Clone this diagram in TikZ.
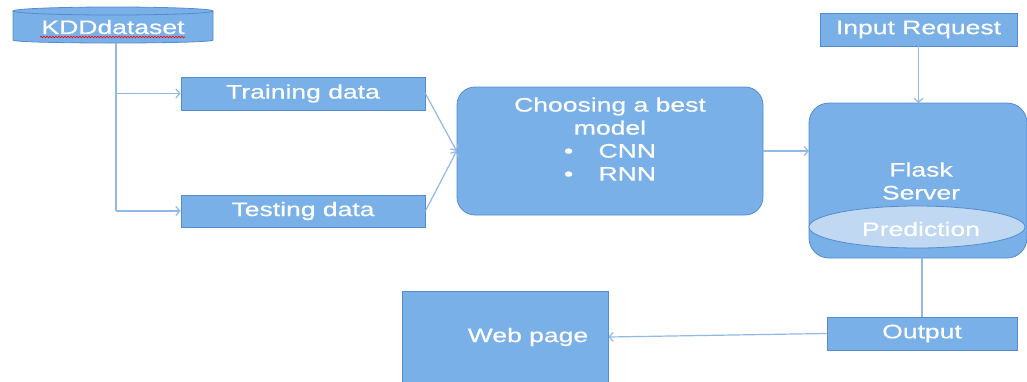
\documentclass[tikz,border=0pt]{standalone}
\usepackage{fontspec}
\setmainfont{Liberation Sans}[FakeStretch=1.36,FakeBold=0.5]
\usetikzlibrary{arrows.meta,decorations.pathmorphing}
\definecolor{boxfill}{RGB}{122,176,232}
\definecolor{boxline}{RGB}{85,140,205}
\definecolor{linec}{RGB}{145,185,232}
\definecolor{predfill}{RGB}{192,216,242}
\begin{document}
\begin{tikzpicture}[x=1pt,y=-1pt,
  txt/.style={text=white,inner sep=0,font=\fontsize{19.5}{23}\selectfont,align=center},
  box/.style={draw=boxline,fill=boxfill,line width=0.8pt,inner sep=0,text=white,font=\fontsize{19.5}{23}\selectfont},
  anchorbox/.style={inner sep=0,outer sep=0},
  conn/.style={draw=linec,line width=1.2pt},
  arr/.style={conn,-{Straight Barb[length=4pt,width=9pt]}}]
\clip (0,0) rectangle (1027,381);
\fill[white] (0,0) rectangle (1027,381);
% KDD cylinder
\node[anchorbox,minimum width=200pt,minimum height=36pt] (kdd) at (113,25) {};
\draw[boxline,line width=0.8pt,fill=boxfill] (13,11) -- (13,40) .. controls (13,44) and (213,44) .. (213,40) -- (213,11);
\draw[boxline,line width=0.8pt,fill=boxfill] (113,11) ellipse [x radius=100,y radius=4];
\node[txt] (kddtext) at (113,27) {KDDdataset};
\draw[red,line width=0.6pt,decorate,decoration={snake,amplitude=0.8pt,segment length=3pt}] (40,37) -- (185,37);
% data boxes
\node[box,minimum width=244pt,minimum height=33pt] (train) at (303,93.5) {Training data};
\node[box,minimum width=244pt,minimum height=32pt] (test) at (303,211) {Testing data};
% model box
\node[box,rounded corners=18pt,minimum width=306pt,minimum height=128pt] (choose) at (610,151) {};
\node[txt] (choosetext) at (610,139) {Choosing a best\\model\\•\hspace{1.3em}CNN\\•\hspace{1.3em}RNN};
% flask server
\node[anchorbox,minimum width=218pt,minimum height=155pt] (flask) at (918,180.5) {};
\draw[boxline,line width=0.8pt,fill=boxfill,rounded corners=20pt] (flask.north west) rectangle (flask.south east);
\draw[boxline,line width=0.8pt,fill=predfill] (917,227) ellipse [x radius=108,y radius=21];
\node[txt] (flasktext) at (921,181) {Flask\\Server};
\node[txt] (pred) at (921,229) {Prediction};
% input / output / web
\node[box,minimum width=197pt,minimum height=33pt] (input) at (918.5,29.5) {Input Request};
\node[box,minimum width=190pt,minimum height=33pt] (output) at (922,333.5) {Output};
\node[box,minimum width=206pt,minimum height=100pt] (web) at (505,341) {};
\node[txt] (webtext) at (528,337) {Web page};
% connectors
\draw[conn] ([xshift=3pt]kdd.south) -- ([xshift=3pt]kdd.south |- test.west);
\draw[arr] ([xshift=3pt]kdd.south |- train.west) -- (train.west);
\draw[arr] ([xshift=3pt]kdd.south |- test.west) -- (test.west);
\draw[arr] (train.east) -- (choose.west);
\draw[arr] (test.east) -- (choose.west);
\draw[arr] (choose.east) -- (choose.east -| flask.west);
\draw[arr] (input.south) -- (input.south |- flask.north);
\draw[conn] (flask.south -| output.north) -- (output.north);
\draw[arr] (output.west) -- ([yshift=4pt]web.east);
\end{tikzpicture}
\end{document}
